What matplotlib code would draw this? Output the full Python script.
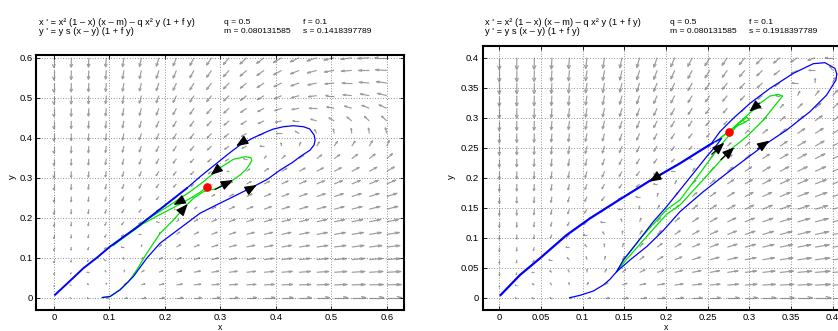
import numpy as np
import matplotlib
matplotlib.use('Agg')
import matplotlib.pyplot as plt
from matplotlib.collections import LineCollection

plt.rcParams['font.family'] = ['Liberation Sans', 'DejaVu Sans']

# ---- model parameters (shown on the chart) ----
Q = 0.5
F = 0.1
M = 0.080131585
S_LEFT = 0.1418397789
S_RIGHT = 0.1918397789

# ---- tick labels ----
left_ticks = [0, 0.1, 0.2, 0.3, 0.4, 0.5, 0.6]
left_ticklabels = ['0', '0.1', '0.2', '0.3', '0.4', '0.5', '0.6']
right_ticks = [0, 0.05, 0.1, 0.15, 0.2, 0.25, 0.3, 0.35, 0.4]
right_ticklabels = ['0', '0.05', '0.1', '0.15', '0.2', '0.25', '0.3', '0.35', '0.4']

# ---- digitised trajectories, left panel ----
lb_x = [0.0875, 0.1014, 0.1195, 0.1434, 0.1676, 0.1915, 0.2276, 0.2636, 0.2950, 0.3236, 0.3596,
        0.3850, 0.4078, 0.4300, 0.4438, 0.4618, 0.4690, 0.4708, 0.4690, 0.4610, 0.4498, 0.4318,
        0.4138, 0.3958, 0.3838, 0.3600, 0.3357, 0.3150, 0.2937, 0.2650, 0.2396]
lb_y = [0.0000, 0.0025, 0.0193, 0.0525, 0.0985, 0.1360, 0.1735, 0.2110, 0.2330, 0.2525, 0.2775,
        0.2960, 0.3190, 0.3380, 0.3525, 0.3690, 0.3820, 0.3940, 0.4070, 0.4220, 0.4275, 0.4300,
        0.4275, 0.4217, 0.4150, 0.4000, 0.3818, 0.3600, 0.3360, 0.3040, 0.2734]
lb_tail_x = [0.2396, 0.1975, 0.1500, 0.1014, 0.0780, 0.0534, 0.0280, 0.0023]
lb_tail_y = [0.2734, 0.2275, 0.1760, 0.1275, 0.1000, 0.0734, 0.0400, 0.0068]

lg1_x = [0.0875, 0.1014, 0.1195, 0.1350, 0.1500, 0.1676, 0.1916, 0.2156, 0.2366, 0.2517, 0.2697,
         0.2820, 0.2907, 0.3050, 0.3227, 0.3357, 0.3460, 0.3530, 0.3568, 0.3550, 0.3447, 0.3237,
         0.3027, 0.2877, 0.2697, 0.2456, 0.2276, 0.2096, 0.1856, 0.1600, 0.1300, 0.1070]
lg1_y = [0.0000, 0.0025, 0.0193, 0.0400, 0.0700, 0.1108, 0.1608, 0.1940, 0.2275, 0.2483, 0.2650,
         0.2700, 0.2708, 0.2800, 0.2940, 0.3067, 0.3200, 0.3330, 0.3440, 0.3500, 0.3525, 0.3458,
         0.3275, 0.3108, 0.2900, 0.2650, 0.2483, 0.2317, 0.2108, 0.1880, 0.1560, 0.1310]
lg2_x = [0.2740, 0.2620, 0.2480, 0.2300, 0.2100, 0.1850, 0.1600, 0.1300, 0.1070]
lg2_y = [0.2740, 0.2620, 0.2500, 0.2360, 0.2210, 0.2030, 0.1840, 0.1540, 0.1300]

# ---- digitised trajectories, right panel ----
rb_x = [0.0845, 0.0968, 0.1128, 0.1248, 0.1328, 0.1408, 0.1568, 0.1768, 0.1968, 0.2168, 0.2448,
        0.2728, 0.2968, 0.3208, 0.3448, 0.3728, 0.3928, 0.4040, 0.4050, 0.4028, 0.3908, 0.3768,
        0.3528, 0.3248, 0.3008, 0.2808, 0.2648, 0.2560]
rb_y = [0.0000, 0.0039, 0.0111, 0.0211, 0.0306, 0.0433, 0.0628, 0.0850, 0.1120, 0.1433, 0.1767,
        0.2072, 0.2322, 0.2572, 0.2794, 0.3100, 0.3378, 0.3628, 0.3730, 0.3822, 0.3917, 0.3900,
        0.3739, 0.3489, 0.3239, 0.2989, 0.2767, 0.2600]
rbi_x = [0.1408, 0.1488, 0.1648, 0.1848, 0.2008, 0.2168, 0.2328, 0.2488, 0.2608, 0.2668, 0.2630, 0.2560]
rbi_y = [0.0433, 0.0628, 0.0906, 0.1267, 0.1517, 0.1795, 0.2072, 0.2350, 0.2544, 0.2656, 0.2630, 0.2580]
rb_tail_x = [0.2560, 0.2168, 0.1808, 0.1448, 0.1088, 0.0808, 0.0488, 0.0248, 0.0016]
rb_tail_y = [0.2580, 0.2239, 0.1950, 0.1639, 0.1322, 0.1044, 0.0656, 0.0378, 0.0044]

rg1_x = [0.1408, 0.1528, 0.1768, 0.2008, 0.2168, 0.2468, 0.2768, 0.2968, 0.3168, 0.3328, 0.3400,
         0.3348, 0.3248, 0.3128, 0.3048, 0.2888, 0.2768, 0.2688, 0.2600]
rg1_y = [0.0433, 0.0640, 0.1020, 0.1390, 0.1544, 0.2000, 0.2461, 0.2683, 0.2961, 0.3239, 0.3361,
         0.3389, 0.3361, 0.3239, 0.3128, 0.2933, 0.2783, 0.2700, 0.2600]
rg2_x = [0.1408, 0.1500, 0.1700, 0.2008, 0.2168, 0.2400, 0.2648, 0.2768, 0.2870, 0.2968, 0.3000,
         0.2950, 0.2850, 0.2768, 0.2680, 0.2600]
rg2_y = [0.0433, 0.0640, 0.1000, 0.1470, 0.1628, 0.2060, 0.2528, 0.2720, 0.2900, 0.3006, 0.2972,
         0.2925, 0.2860, 0.2790, 0.2690, 0.2600]

# ---- direction arrows on trajectories (tail -> tip) ----
l_arr_tail_x = [0.3425, 0.3518, 0.2969, 0.2907, 0.2296, 0.2334]
l_arr_tail_y = [0.3913, 0.2705, 0.3227, 0.2708, 0.2422, 0.2214]
l_arr_tip_x = [0.3285, 0.3658, 0.2829, 0.3227, 0.2156, 0.2414]
l_arr_tip_y = [0.3790, 0.2817, 0.3067, 0.2940, 0.2317, 0.2342]
r_arr_tail_x = [0.1950, 0.3100, 0.3120, 0.2550, 0.2660]
r_arr_tail_y = [0.2062, 0.2484, 0.3244, 0.2390, 0.2300]
r_arr_tip_x = [0.1800, 0.3240, 0.3000, 0.2700, 0.2820]
r_arr_tip_y = [0.1933, 0.2617, 0.3100, 0.2583, 0.2506]

# interior equilibrium (double root of the nullcline intersection)
EQ_X = [0.27625]
EQ_Y = [0.27625]


def field(x, y, s):
    u = x**2 * (1 - x) * (x - M) - Q * x**2 * y * (1 + F * y)
    v = y * s * (x - y) * (1 + F * y)
    return u, v


def direction_field(ax, xmax, s, frac, n=20, color='#9c9c9c', lw=0.85):
    g = np.linspace(0, xmax, n)
    X, Y = np.meshgrid(g, g)
    U, V = field(X, Y, s)
    mag = np.hypot(U, V)
    spacing = xmax / (n - 1)
    L = frac * spacing * (mag / mag.max()) ** (1.0 / 3.0)
    with np.errstate(invalid='ignore', divide='ignore'):
        U = np.where(mag > 0, U / mag * L, 0.0)
        V = np.where(mag > 0, V / mag * L, 0.0)
    a = 0.33; b = 0.33
    segs = []
    for xi, yi, ui, vi in zip(X.ravel(), Y.ravel(), U.ravel(), V.ravel()):
        tx, ty = xi + ui, yi + vi
        segs.append([(xi, yi), (tx, ty)])
        segs.append([(tx - a * (ui + b * vi), ty - a * (vi - b * ui)), (tx, ty),
                     (tx - a * (ui - b * vi), ty - a * (vi + b * ui))])
    ax.add_collection(LineCollection(segs, colors=color, linewidths=lw, zorder=1))


W, H = 838, 331
fig = plt.figure(figsize=(W / 100, H / 100), dpi=100)

def px_axes(l, t, r, b):
    return fig.add_axes([l / W, 1 - b / H, (r - l) / W, (b - t) / H])

axL = px_axes(36, 55, 404, 309.5)
axR = px_axes(482.6, 45.7, 849.3, 309.7)

TFS = 6.8

def style(ax, ticks, labels, xlim, ylim):
    ax.set_xlim(*xlim)
    ax.set_ylim(*ylim)
    ax.set_xticks(ticks)
    ax.set_xticklabels(labels)
    ax.set_yticks(ticks)
    ax.set_yticklabels(labels)
    ax.tick_params(direction='in', length=3, width=0.6, top=True, right=True,
                   labelsize=TFS, pad=2.5, colors='black')
    ax.grid(True, color='#6e6e6e', linestyle=(0, (1, 2.2)), linewidth=0.6, zorder=0)
    for sp in ax.spines.values():
        sp.set_linewidth(1.5)
        sp.set_color('black')

style(axL, left_ticks, left_ticklabels, (-0.032, 0.631), (-0.03, 0.607))
style(axR, right_ticks, right_ticklabels, (-0.02, 0.42), (-0.02, 0.42))

direction_field(axL, 0.6, S_LEFT, 0.85)
direction_field(axR, 0.4, S_RIGHT, 0.95)

BLUE = '#0000ff'
GREEN = '#00e400'

axL.plot(lg1_x, lg1_y, color=GREEN, lw=0.9, zorder=3)
axL.plot(lg2_x, lg2_y, color=GREEN, lw=0.9, zorder=3)
axL.plot(lb_x, lb_y, color=BLUE, lw=0.9, zorder=4)
axL.plot(lb_tail_x, lb_tail_y, color=BLUE, lw=1.4, zorder=4)

axR.plot(rg1_x, rg1_y, color=GREEN, lw=0.9, zorder=3)
axR.plot(rg2_x, rg2_y, color=GREEN, lw=0.9, zorder=3)
axR.plot(rb_x, rb_y, color=BLUE, lw=0.9, zorder=4)
axR.plot(rbi_x, rbi_y, color=BLUE, lw=0.9, zorder=4)
axR.plot(rb_tail_x, rb_tail_y, color=BLUE, lw=1.6, zorder=4)

def arrows(ax, tx, ty, hx, hy):
    for a, b, c, d in zip(tx, ty, hx, hy):
        ax.annotate('', xy=(c, d), xytext=(a, b),
                    arrowprops=dict(arrowstyle='-|>,head_length=0.8,head_width=0.32',
                                    mutation_scale=9, color='black', lw=0.9,
                                    shrinkA=0, shrinkB=0), zorder=6)

arrows(axL, l_arr_tail_x, l_arr_tail_y, l_arr_tip_x, l_arr_tip_y)
arrows(axR, r_arr_tail_x, r_arr_tail_y, r_arr_tip_x, r_arr_tip_y)

for ax in (axL, axR):
    ax.plot(EQ_X, EQ_Y, 'o', color='red', ms=5.2, mec='red', zorder=7)

# header texts
def ftext(px, py, s, fs):
    fig.text(px / W, 1 - py / H, s, fontsize=fs, va='center', ha='left')

for ox, s in ((0, S_LEFT), (446, S_RIGHT)):
    ftext(39 + ox, 22.5, "x ' = x\u00b2 (1 \u2013 x) (x \u2013 m) \u2013 q x\u00b2 y (1 + f y)", 6.7)
    ftext(39 + ox, 31.5, "y ' = y s (x \u2013 y) (1 + f y)", 6.7)
    ftext(224 + ox, 22.5, "q = %g" % Q, 6.1)
    ftext(303 + ox, 22.5, "f = %g" % F, 6.1)
    ftext(224 + ox, 31.5, "m = %.9f" % M, 6.1)
    ftext(303 + ox, 31.5, "s = %.10f" % s, 6.1)

# axis labels
fig.text(220 / W, 1 - 323.5 / H, 'x', fontsize=6.3, ha='center', va='top')
fig.text(665.9 / W, 1 - 323.5 / H, 'x', fontsize=6.3, ha='center', va='top')
fig.text(12.7 / W, 1 - 177 / H, 'y', fontsize=TFS, ha='center', va='center', rotation=90)
fig.text(451.7 / W, 1 - 177 / H, 'y', fontsize=TFS, ha='center', va='center', rotation=90)

fig.savefig('out.png', dpi=100)
